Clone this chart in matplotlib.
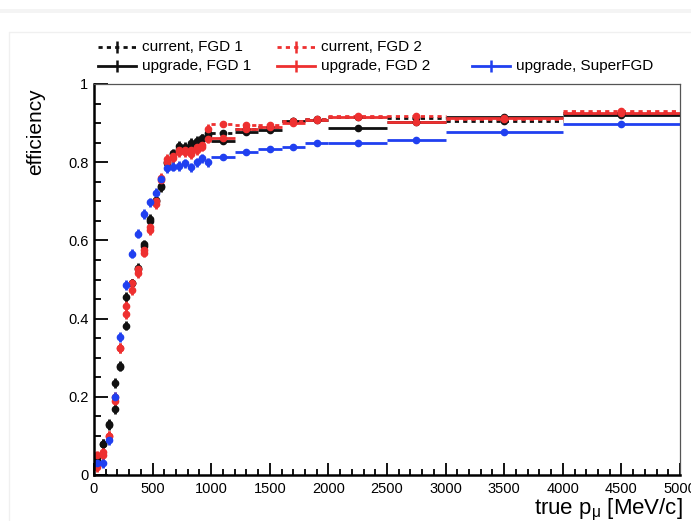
import numpy as np
import matplotlib
matplotlib.use("Agg")
import matplotlib.pyplot as plt
from matplotlib.lines import Line2D
from matplotlib.ticker import MultipleLocator, FuncFormatter

plt.rcParams['font.family'] = ['Liberation Sans', 'DejaVu Sans']
plt.rcParams['mathtext.fontset'] = 'custom'
plt.rcParams['mathtext.rm'] = 'Liberation Sans'
plt.rcParams['mathtext.it'] = 'Liberation Sans'

# bin edges in true muon momentum [MeV/c]
edges = [0, 50, 100, 150, 200, 250, 300, 350, 400, 450, 500, 550, 600, 650, 700,
         750, 800, 850, 900, 950, 1000, 1200, 1400, 1600, 1800, 2000, 2500, 3000,
         4000, 5000]

cur_fgd1 = [0.035, 0.080, 0.130, 0.235, 0.280, 0.455, 0.490, 0.530, 0.590, 0.655,
            0.700, 0.740, 0.800, 0.820, 0.835, 0.840, 0.850, 0.855, 0.860, 0.875,
            0.875, 0.885, 0.890, 0.905, 0.910, 0.915, 0.913, 0.906, 0.925]
upg_fgd1 = [0.043, 0.079, 0.128, 0.169, 0.277, 0.382, 0.490, 0.526, 0.586, 0.650,
            0.703, 0.737, 0.797, 0.823, 0.841, 0.835, 0.845, 0.850, 0.861, 0.870,
            0.855, 0.878, 0.882, 0.905, 0.908, 0.888, 0.902, 0.915, 0.921]
cur_fgd2 = [0.050, 0.050, 0.100, 0.200, 0.325, 0.432, 0.490, 0.526, 0.575, 0.635,
            0.700, 0.755, 0.800, 0.815, 0.830, 0.825, 0.830, 0.840, 0.845, 0.885,
            0.898, 0.895, 0.895, 0.905, 0.910, 0.918, 0.918, 0.911, 0.930]
upg_fgd2 = [0.020, 0.060, 0.100, 0.190, 0.325, 0.411, 0.473, 0.517, 0.569, 0.627,
            0.693, 0.760, 0.808, 0.810, 0.826, 0.830, 0.820, 0.830, 0.840, 0.860,
            0.862, 0.885, 0.890, 0.900, 0.907, 0.916, 0.902, 0.914, 0.927]
upg_sfgd = [0.030, 0.030, 0.090, 0.200, 0.353, 0.486, 0.566, 0.617, 0.668, 0.697,
            0.722, 0.756, 0.784, 0.789, 0.790, 0.797, 0.787, 0.800, 0.810, 0.800,
            0.813, 0.827, 0.834, 0.839, 0.849, 0.849, 0.857, 0.877, 0.897]

yerr_low = 0.012
yerr_high = 0.007

black = '#111111'
red = '#ee3030'
blue = '#2040f0'

edges_a = np.array(edges, dtype=float)
centers = 0.5 * (edges_a[1:] + edges_a[:-1])
halfw = 0.5 * (edges_a[1:] - edges_a[:-1])
yerr = np.where(centers < 1000, yerr_low, yerr_high)

fig = plt.figure(figsize=(6.91, 5.21), dpi=100)
W, H = 691.0, 521.0

# faint slide frame
fig.add_artist(plt.Rectangle((0, 1 - 13 / H), 1, 4 / H, transform=fig.transFigure,
                             color='#f4f4f4', lw=0))
fig.add_artist(Line2D([9 / W, 9 / W, 1], [0, 1 - 32 / H, 1 - 32 / H],
                      transform=fig.transFigure, color='#f0f0f0', lw=1))

ax = fig.add_axes([94 / W, 1 - 475 / H, 586 / W, 391 / H])

series = [
    (cur_fgd1, black, True),
    (upg_fgd1, black, False),
    (cur_fgd2, red, True),
    (upg_fgd2, red, False),
    (upg_sfgd, blue, False),
]
for vals, col, dotted in series:
    eb = ax.errorbar(centers, vals, xerr=halfw, yerr=yerr, fmt='o', ms=4.5,
                     color=col, mec=col, elinewidth=2, capsize=0)
    if dotted:
        eb[2][0].set_linestyle((0, (1.5, 1.5)))

ax.set_xlim(0, 5000)
ax.set_ylim(0, 1.0)
ax.xaxis.set_major_locator(MultipleLocator(500))
ax.xaxis.set_minor_locator(MultipleLocator(100))
ax.yaxis.set_major_locator(MultipleLocator(0.2))
ax.yaxis.set_minor_locator(MultipleLocator(0.05))
ax.yaxis.set_major_formatter(FuncFormatter(lambda v, p: '{:g}'.format(round(v, 2))))
ax.tick_params(axis='both', which='both', direction='in', top=False, right=False,
               labelsize=10.5, width=1.3)
ax.tick_params(axis='x', which='major', length=8.5, pad=5)
ax.tick_params(axis='x', which='minor', length=4.5)
ax.tick_params(axis='y', which='major', length=10, pad=4)
ax.tick_params(axis='y', which='minor', length=5)
for s in ['left', 'bottom']:
    ax.spines[s].set_linewidth(1.8)
for s in ['top', 'right']:
    ax.spines[s].set_linewidth(0.9)
    ax.spines[s].set_color('#555555')

ax.set_ylabel('efficiency', fontsize=15, loc='top')
ax.yaxis.set_label_coords(-0.084, 0.99)
ax.set_xlabel(r'true p$_{\mu}$ [MeV/c]', fontsize=16, loc='right')
ax.xaxis.set_label_coords(1.004, -0.055)

# legend drawn in ROOT style above the frame
legend_rows = [
    (98, 47, 'current, FGD 1', black, True),
    (277, 47, 'current, FGD 2', red, True),
    (98, 66, 'upgrade, FGD 1', black, False),
    (277, 66, 'upgrade, FGD 2', red, False),
    (472, 66, 'upgrade, SuperFGD', blue, False),
]
for x0, y0, lab, col, dotted in legend_rows:
    ls = (0, (1.5, 1.5)) if dotted else '-'
    xa, xb, yy = x0 / W, (x0 + 38) / W, 1 - y0 / H
    fig.add_artist(Line2D([xa, xb], [yy, yy], transform=fig.transFigure,
                          color=col, lw=2, ls=ls))
    fig.add_artist(Line2D([(xa + xb) / 2], [yy], transform=fig.transFigure,
                          color=col, marker='|', ms=9, mew=1.8, ls='none'))
    fig.text((x0 + 44) / W, yy, lab, fontsize=11, va='center', ha='left')

fig.savefig('out.png', dpi=100)
